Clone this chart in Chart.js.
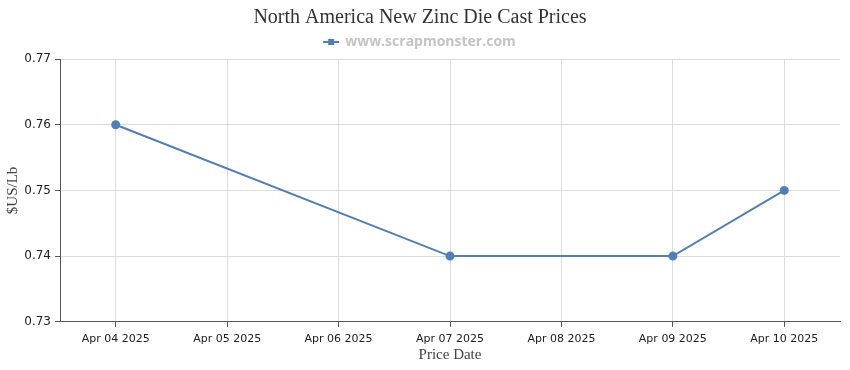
<!DOCTYPE html>
<html>
<head>
<meta charset="utf-8">
<script src="https://cdn.jsdelivr.net/npm/chart.js@4.4.1/dist/chart.umd.min.js"></script>
<style>
html,body{margin:0;padding:0;background:#fff;}
#wrap{width:850px;height:370px;position:relative;}
</style>
</head>
<body>
<div id="wrap"><canvas id="c" width="850" height="370"></canvas></div>
<script>
const categories = ["Apr 04 2025","Apr 05 2025","Apr 06 2025","Apr 07 2025","Apr 08 2025","Apr 09 2025","Apr 10 2025"];
const prices = [0.76, null, null, 0.74, null, 0.74, 0.75];
const yTicks = [0.73, 0.74, 0.75, 0.76, 0.77];
const seriesName = "www.scrapmonster.com";
const chartTitle = "North America New Zinc Die Cast Prices";

const lineColor = '#4f7fb8';

// legend marker: line with square
const mk = document.createElement('canvas');
mk.width = 18; mk.height = 10;
const mctx = mk.getContext('2d');
mctx.strokeStyle = lineColor; mctx.lineWidth = 2;
mctx.beginPath(); mctx.moveTo(1,5); mctx.lineTo(17,5); mctx.stroke();
mctx.fillStyle = lineColor; mctx.fillRect(6,2,6,6);

new Chart(document.getElementById('c'), {
  type: 'line',
  data: {
    labels: categories,
    datasets: [{
      label: seriesName,
      data: prices,
      borderColor: lineColor,
      backgroundColor: lineColor,
      borderWidth: 2,
      pointRadius: 3.5,
      pointHoverRadius: 3.5,
      pointBackgroundColor: lineColor,
      pointBorderColor: lineColor,
      spanGaps: true,
      tension: 0
    }]
  },
  options: {
    responsive: false,
    animation: false,
    devicePixelRatio: 1,
    layout: { padding: { left: 0, right: 10, top: 6, bottom: 4 } },
    plugins: {
      title: {
        display: true,
        text: chartTitle,
        color: '#333',
        font: { family: '"Liberation Serif", "Times New Roman", serif', size: 20, weight: 'normal' },
        padding: { top: 0, bottom: 0 }
      },
      legend: {
        display: true,
        labels: {
          color: '#c4c4c4',
          font: { family: '"Open Sans", "DejaVu Sans", sans-serif', size: 14, weight: 'bold' },
          usePointStyle: true,
          pointStyle: mk,
          padding: 5,
          generateLabels: (chart) => [{ text: seriesName, pointStyle: mk, fillStyle: lineColor, strokeStyle: lineColor, fontColor: '#c4c4c4', datasetIndex: 0, hidden: false }]
        }
      },
      tooltip: { enabled: false }
    },
    scales: {
      x: {
        type: 'category',
        offset: true,
        grid: { color: '#dddddd', offset: false, drawTicks: true, tickLength: 5, tickColor: '#555' },
        border: { color: '#555', width: 1 },
        ticks: { color: '#222', font: { family: '"DejaVu Sans", sans-serif', size: 11 }, maxRotation: 0, autoSkip: false, padding: 6 },
        title: { display: true, text: 'Price Date', color: '#444', font: { family: '"Liberation Serif", serif', size: 15, lineHeight: 1 }, padding: { top: -4, bottom: 3 } }
      },
      y: {
        min: 0.73, max: 0.77,
        afterBuildTicks: (s) => { s.ticks = yTicks.map(v => ({ value: v })); },
        afterFit: (s) => { s.width = 60; },
        grid: { color: '#dddddd', drawTicks: true, tickLength: 5, tickColor: '#555' },
        border: { color: '#555', width: 1 },
        ticks: { color: '#222', font: { family: '"DejaVu Sans", sans-serif', size: 12 }, padding: 4, callback: (v) => v.toFixed(2) },
        title: { display: true, text: '$US/Lb', color: '#444', font: { family: '"Liberation Serif", serif', size: 15 }, padding: { top: 4, bottom: 4 } }
      }
    }
  }
});
</script>
</body>
</html>
